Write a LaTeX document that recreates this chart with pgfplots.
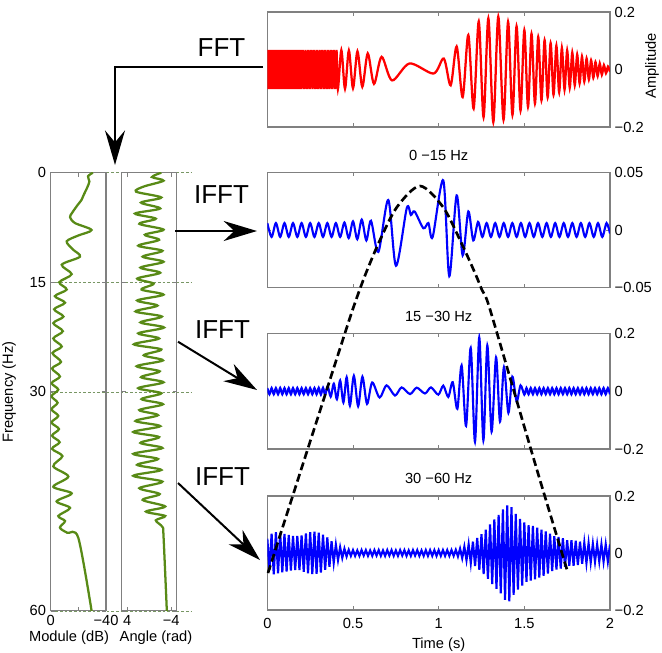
\documentclass[border=0pt]{standalone}
\usepackage{fontspec}
\setmainfont{Liberation Sans}
\usepackage{pgfplots}
\pgfplotsset{compat=1.18}
\usetikzlibrary{arrows.meta}

\definecolor{sigred}{RGB}{255,0,0}
\definecolor{sigblue}{RGB}{0,0,255}
\definecolor{siggreen}{RGB}{88,138,22}
\definecolor{boxgray}{RGB}{128,128,128}
\definecolor{gridgreen}{RGB}{120,150,100}

\pgfplotsset{
  panel/.style={scale only axis, anchor=north west,
    axis line style={draw=boxgray, line width=0.8pt},
    tick style={draw=boxgray, line width=0.6pt},
    tick align=inside, major tick length=3pt,
    xtick pos=both, ytick pos=both,
    scaled x ticks=false, scaled y ticks=false,
    every tick label/.append style={font=\fontsize{11}{13}\selectfont, text=black},
    label style={font=\fontsize{11}{13}\selectfont},
    clip=true},
  tpanel/.style={panel, width=257pt, xmin=0, xmax=2,
    xtick={0,0.5,1,1.5,2}, xticklabels={},
    yticklabel pos=right},
  ovl/.style={at={(0pt,0pt)}, anchor=north west, scale only axis,
    width=496.5pt, height=489.75pt, xmin=0, xmax=662, ymin=0, ymax=653,
    y dir=reverse, hide axis, clip=false},
}

\begin{document}
\begin{tikzpicture}
\useasboundingbox (0,0) rectangle (496.5pt,-489.75pt);

% background overlay: dashed frequency grid lines
\begin{axis}[ovl]
\addplot[gridgreen, line width=0.6pt, dash pattern=on 2pt off 1.5pt] coordinates {(50.7,172.7) (191,172.7)};
\addplot[gridgreen, line width=0.6pt, dash pattern=on 2pt off 1.5pt] coordinates {(50.7,282.3) (191,282.3)};
\addplot[gridgreen, line width=0.6pt, dash pattern=on 2pt off 1.5pt] coordinates {(50.7,392) (191,392)};
\addplot[gridgreen, line width=0.6pt, dash pattern=on 2pt off 1.5pt] coordinates {(50.7,611) (191,611)};
\end{axis}

% ---------- Module ----------
\begin{axis}[panel, at={(38pt,-129.5pt)}, width=41.5pt, height=328.7pt,
  xmin=-40, xmax=0, x dir=reverse, ymin=0, ymax=60, y dir=reverse,
  xtick={0,-20,-40}, xticklabels={0,,−40},
  ytick={0,15,30,60}, yticklabels={0,15,30,60}]
\addplot[siggreen, line width=1.7pt, smooth] coordinates {
(-30.5,0) (-27,0.5) (-28,1.2) (-26.5,2.0) (-24,3.0) (-22.4,3.7) (-18.8,4.6) (-15.5,5.5) (-14,6.1) (-17.6,6.9) (-29.6,7.85) (-20,8.6) (-11.6,9.4) (-16,10.5) (-21.2,11.5) (-8,12.6) (-15.2,13.9) (-6.2,15.0)
(-11.6,16.0) (-3.1,16.9) (-10.4,17.8) (-2.5,18.7) (-9.2,19.7) (-1.9,20.6) (-8.8,21.7) (-1.9,22.7) (-8,23.8) (-1.3,24.7) (-7.5,25.9) (-1,26.8) (-6.7,27.9) (-0.7,28.8) (-5.5,29.7)
(-0.6,30.6) (-5,31.5) (-0.6,32.4) (-5.5,33.3) (-0.6,34.2) (-6,35.1) (-1,36.0) (-6.5,36.9) (-1,37.8) (-8.5,38.8) (-1.9,40.2) (-12.8,41.6) (-1.9,43.0) (-15.2,43.9) (-4.3,45.0) (-14,45.9) (-5.5,47.0) (-10.4,47.7) (-6.7,48.6) (-12,49.3) (-20,50.0) (-29.6,60)
};
\end{axis}

% ---------- Angle ----------
\begin{axis}[panel, at={(91.3pt,-129.5pt)}, width=41.25pt, height=328.7pt,
  xmin=-5, xmax=5, x dir=reverse, ymin=0, ymax=60, y dir=reverse,
  xtick={4,-4}, xticklabels={4,−4},
  ytick={0,15,30,60}, yticklabels={}]
\addplot[siggreen, line width=1.7pt, smooth] coordinates {
(-2.2,0) (-0.5,0.6) (-2.6,1.1) (1.0,1.9) (2.4,2.6) (-2.2,3.4) (1.5,4.1) (-2.0,4.9) (2.6,5.6) (-1.2,6.3) (1.8,7.0) (-2.6,7.8) (0.8,8.5) (-1.8,9.2) (2.0,10.0) (-2.4,10.7) (1.2,11.5) (-2.6,12.2) (1.6,13.0) (-2.0,13.7) (2.2,14.5) (-0.8,15.2) (1.4,16.0) (-2.6,16.7) (2.2,17.5) (-1.5,18.2) (2.5,19.0) (-2.3,19.7) (1.6,20.5) (-2.7,21.2) (2.0,22.0) (-1.8,22.7) (2.8,23.5) (-2.2,24.2) (1.0,25.0) (-2.5,25.7) (2.3,26.5) (-1.9,27.2) (1.5,28.0) (-2.6,28.7) (2.0,29.5) (-2.2,30.2) (1.4,31.0) (-2.5,31.7) (1.8,32.5) (-1.6,33.2) (2.5,34.0) (-2.0,34.7) (2.9,35.5) (-1.8,36.2) (1.6,37.0) (-2.4,37.7) (2.9,38.5) (-1.6,39.2) (2.2,40.0) (-2.2,40.7) (2.9,41.5) (-2.4,42.3) (1.8,43.2) (-1.9,44.0) (1.2,44.8) (-2.9,45.7) (0.6,46.4) (-2.9,47.0) (-1.2,47.6) (-2.4,48.5) (-2.6,49.8) (-3.2,60)
};
\end{axis}

% ---------- Top: original signal ----------
\begin{axis}[tpanel, at={(200.5pt,-9pt)}, height=86.25pt,
  ymin=-0.2, ymax=0.2, ytick={-0.2,0,0.2}, yticklabels={−0.2,0,0.2}]
\addplot[sigred, line width=1.7pt, smooth] coordinates {
(0,0.068) (0.006,-0.068) (0.012,0.068) (0.018,-0.068) (0.024,0.068) (0.03,-0.068) (0.036,0.068) (0.042,-0.068) (0.048,0.068) (0.054,-0.068) (0.06,0.068) (0.066,-0.068) (0.072,0.068) (0.078,-0.068) (0.084,0.068) (0.09,-0.068) (0.096,0.068) (0.102,-0.068) (0.108,0.068) (0.114,-0.068) (0.12,0.068) (0.126,-0.068) (0.132,0.068) (0.138,-0.068) (0.144,0.068) (0.15,-0.068) (0.156,0.068) (0.162,-0.068) (0.168,0.068) (0.174,-0.068) (0.18,0.068) (0.186,-0.068) (0.192,0.068) (0.198,-0.068)
(0.2062,0.068) (0.2144,-0.068) (0.2227,0.068) (0.2309,-0.068) (0.2391,0.068) (0.2473,-0.068) (0.2555,0.068) (0.2638,-0.068) (0.272,0.068) (0.2802,-0.068) (0.2884,0.068) (0.2966,-0.068) (0.3049,0.068) (0.3131,-0.068) (0.3213,0.068) (0.3295,-0.068) (0.3377,0.068) (0.346,-0.068) (0.3542,0.068) (0.3624,-0.068) (0.3706,0.068) (0.3788,-0.068) (0.3871,0.068) (0.3953,-0.068) (0.4035,0.068) (0.4117,-0.068)
(0.432,0.067) (0.4533,-0.067) (0.4759,0.066) (0.5,-0.065) (0.526,0.063) (0.5544,-0.06) (0.5861,0.056) (0.6225,-0.05) (0.667,0.044) (0.728,-0.038) (0.83,0.021) (0.97,-0.014) (1.03,0.038) (1.07,-0.055) (1.105,0.08) (1.14,-0.096) (1.173,0.12) (1.204,-0.136) (1.234,0.167) (1.262,-0.166) (1.29,0.178) (1.319,-0.183) (1.348,0.184) (1.3785,-0.175) (1.4052,0.166) (1.4306,-0.158) (1.4547,0.150) (1.4778,-0.143) (1.5,0.137) (1.5214,-0.130) (1.542,0.124) (1.5619,-0.118) (1.5812,0.113) (1.6,-0.107) (1.6183,0.102) (1.6361,-0.097) (1.6534,0.092) (1.6704,-0.088) (1.687,0.083) (1.7032,-0.079) (1.7191,0.075) (1.7347,-0.070) (1.75,0.066) (1.765,-0.063) (1.7798,0.059) (1.7943,-0.055) (1.8085,0.052) (1.8226,-0.048) (1.8364,0.045) (1.85,-0.042) (1.8634,0.038) (1.8767,-0.035) (1.8897,0.032) (1.9026,-0.029) (1.9153,0.026) (1.9278,-0.023) (1.9402,0.021) (1.9524,-0.018) (1.9645,0.015) (1.9765,-0.013) (1.9883,0.010) (2.0,-0.008)
};
\end{axis}

% ---------- 0-15 Hz ----------
\begin{axis}[tpanel, at={(200.5pt,-129.25pt)}, height=86.5pt,
  ymin=-0.05, ymax=0.05, ytick={-0.05,0,0.05}, yticklabels={−0.05,0,0.05}]
\addplot[sigblue, line width=1.6pt, smooth] coordinates {
(0,0.006) (0.025,-0.006) (0.05,0.006) (0.075,-0.006) (0.1,0.006) (0.125,-0.006) (0.15,0.006) (0.175,-0.006) (0.2,0.006) (0.225,-0.006) (0.25,0.006) (0.275,-0.006) (0.3,0.006) (0.325,-0.006) (0.35,0.006) (0.375,-0.006) (0.4,0.006) (0.425,-0.006) (0.45,0.0065) (0.475,-0.007) (0.5,0.0075) (0.525,-0.008) (0.551,0.009) (0.578,-0.009) (0.605,0.008) (0.648,-0.019) (0.706,0.026) (0.751,-0.031) (0.814,0.019) (0.838,0.013) (0.86,0.016) (0.911,0.0015) (0.94,0.006) (0.965,-0.006) (1.027,0.043) (1.062,-0.040) (1.105,0.030) (1.14,-0.022) (1.173,0.016) (1.202,-0.009) (1.23,0.007) (1.255,-0.006) (1.28,0.006) (1.305,-0.006) (1.33,0.006) (1.355,-0.006) (1.38,0.006) (1.405,-0.006) (1.43,0.006) (1.455,-0.006) (1.48,0.006) (1.505,-0.006) (1.53,0.006) (1.555,-0.006) (1.58,0.006) (1.605,-0.006) (1.63,0.006) (1.655,-0.006) (1.68,0.006) (1.705,-0.006) (1.73,0.006) (1.755,-0.006) (1.78,0.006) (1.805,-0.006) (1.83,0.006) (1.855,-0.006) (1.88,0.006) (1.905,-0.006) (1.93,0.006) (1.955,-0.006) (1.98,0.006) (2.0,-0.003)
};
\end{axis}

% ---------- 15-30 Hz ----------
\begin{axis}[tpanel, at={(200.5pt,-250pt)}, height=86.75pt,
  ymin=-0.2, ymax=0.2, ytick={-0.2,0,0.2}, yticklabels={−0.2,0,0.2}]
\addplot[sigblue, line width=1.6pt, smooth] coordinates {
(0,0.011) (0.0125,-0.011) (0.025,0.011) (0.0375,-0.011) (0.05,0.011) (0.0625,-0.011) (0.075,0.011) (0.0875,-0.011) (0.1,0.011) (0.1125,-0.011) (0.125,0.011) (0.1375,-0.011) (0.15,0.011) (0.1625,-0.011) (0.175,0.011) (0.1875,-0.011) (0.2,0.011) (0.2125,-0.011) (0.225,0.011) (0.2375,-0.011) (0.25,0.011) (0.2625,-0.011) (0.275,0.011) (0.2875,-0.011) (0.3,0.012) (0.3125,-0.012) (0.325,0.012) (0.3375,-0.013) (0.352,0.017) (0.37,-0.019) (0.388,0.026) (0.406,-0.028) (0.425,0.037) (0.444,-0.039) (0.463,0.048) (0.482,-0.05) (0.505,0.053) (0.53,-0.052) (0.555,0.05) (0.582,-0.044) (0.612,0.03) (0.655,-0.022) (0.696,0.02) (0.745,-0.015) (0.784,0.013) (0.833,-0.01) (0.872,0.012) (0.92,-0.008) (0.955,0.013) (0.998,-0.012) (1.027,0.019) (1.056,-0.02) (1.082,0.031) (1.109,-0.061) (1.134,0.089) (1.16,-0.12) (1.187,0.15) (1.212,-0.175) (1.237,0.186) (1.261,-0.17) (1.284,0.158) (1.309,-0.14) (1.335,0.117) (1.358,-0.105) (1.381,0.083) (1.407,-0.075) (1.43,0.05) (1.455,-0.035) (1.478,0.02) (1.5,-0.012) (1.5125,0.011) (1.525,-0.011) (1.5375,0.011) (1.55,-0.011) (1.5625,0.011) (1.575,-0.011) (1.5875,0.011) (1.6,-0.011) (1.6125,0.011) (1.625,-0.011) (1.6375,0.011) (1.65,-0.011) (1.6625,0.011) (1.675,-0.011) (1.6875,0.011) (1.7,-0.011) (1.7125,0.011) (1.725,-0.011) (1.7375,0.011) (1.75,-0.011) (1.7625,0.011) (1.775,-0.011) (1.7875,0.011) (1.8,-0.011) (1.8125,0.011) (1.825,-0.011) (1.8375,0.011) (1.85,-0.011) (1.8625,0.011) (1.875,-0.011) (1.8875,0.011) (1.9,-0.011) (1.9125,0.011) (1.925,-0.011) (1.9375,0.011) (1.95,-0.011) (1.9625,0.011) (1.975,-0.011) (1.9875,0.011) (2.0,-0.011)
};
\end{axis}

% ---------- 30-60 Hz ----------
\begin{axis}[tpanel, at={(200.5pt,-372pt)}, height=85.5pt,
  ymin=-0.2, ymax=0.2, ytick={-0.2,0,0.2}, yticklabels={−0.2,0,0.2},
  xticklabels={0,0.5,1,1.5,2}, xticklabel style={yshift=-3pt},
  xlabel={Time (s)}]
\addplot[sigblue, line width=1.6pt] coordinates {
(0,0.05) (0.0125,-0.059) (0.025,0.068) (0.0375,-0.075) (0.05,0.073) (0.0625,-0.071) (0.075,0.070) (0.0875,-0.068) (0.1,0.067) (0.1125,-0.065) (0.125,0.063) (0.1375,-0.062) (0.15,0.060) (0.1625,-0.060) (0.175,0.060) (0.1875,-0.060) (0.2,0.062) (0.2125,-0.066) (0.225,0.069) (0.2375,-0.071) (0.25,0.073) (0.2625,-0.074) (0.275,0.075) (0.2875,-0.073) (0.3,0.071) (0.3125,-0.069) (0.325,0.064) (0.3375,-0.059) (0.35,0.055) (0.3625,-0.048) (0.375,0.041) (0.3875,-0.034) (0.4,0.029) (0.4125,-0.025) (0.425,0.020) (0.4375,-0.017) (0.45,0.015) (0.4625,-0.012) (0.475,0.011) (0.4875,-0.010) (0.5,0.010)
(0.5125,-0.010) (0.525,0.009) (0.5375,-0.010) (0.55,0.010) (0.5625,-0.009) (0.575,0.010) (0.5875,-0.010) (0.6,0.009) (0.6125,-0.010) (0.625,0.010) (0.6375,-0.009) (0.65,0.010) (0.6625,-0.010) (0.675,0.009) (0.6875,-0.010) (0.7,0.010) (0.7125,-0.009) (0.725,0.010) (0.7375,-0.010) (0.75,0.009) (0.7625,-0.010) (0.775,0.010) (0.7875,-0.009) (0.8,0.010) (0.8125,-0.010) (0.825,0.009) (0.8375,-0.010) (0.85,0.010) (0.8625,-0.009) (0.875,0.010) (0.8875,-0.010) (0.9,0.009) (0.9125,-0.010) (0.925,0.010) (0.9375,-0.010) (0.95,0.010) (0.9625,-0.010) (0.975,0.010) (0.9875,-0.010) (1.0,0.010) (1.0125,-0.010) (1.025,0.010) (1.0375,-0.010) (1.05,0.010) (1.0625,-0.010) (1.075,0.010) (1.0875,-0.010)
(1.1,0.011) (1.1125,-0.012) (1.125,0.015) (1.1375,-0.018) (1.15,0.022) (1.1625,-0.025) (1.175,0.030) (1.1875,-0.035) (1.2,0.040) (1.2125,-0.046) (1.225,0.053) (1.2375,-0.059) (1.25,0.066) (1.2625,-0.074) (1.275,0.082) (1.2875,-0.091) (1.3,0.100) (1.3125,-0.109) (1.325,0.118) (1.3375,-0.126) (1.35,0.134) (1.3625,-0.142) (1.375,0.153) (1.3875,-0.164) (1.4,0.167) (1.4125,-0.170) (1.425,0.161) (1.4375,-0.147) (1.45,0.137) (1.4625,-0.128) (1.475,0.120) (1.4875,-0.114) (1.5,0.107) (1.5125,-0.101) (1.525,0.098) (1.5375,-0.097) (1.55,0.095) (1.5625,-0.092) (1.575,0.089) (1.5875,-0.086) (1.6,0.082) (1.6125,-0.080) (1.625,0.076) (1.6375,-0.072) (1.65,0.068) (1.6625,-0.063) (1.675,0.059) (1.6875,-0.058) (1.7,0.056) (1.7125,-0.055) (1.725,0.052) (1.7375,-0.048) (1.75,0.045) (1.7625,-0.045) (1.775,0.045) (1.7875,-0.045) (1.8,0.043) (1.8125,-0.042) (1.825,0.040) (1.8375,-0.038) (1.85,0.036) (1.8625,-0.035) (1.875,0.034) (1.8875,-0.033) (1.9,0.032) (1.9125,-0.031) (1.925,0.030) (1.9375,-0.030) (1.95,0.030) (1.9625,-0.030) (1.975,0.030) (1.9875,-0.030) (2.0,0.030)
};
\end{axis}

% foreground overlay: envelope, arrows, texts
\begin{axis}[ovl]
\addplot[black, line width=2pt, dash pattern=on 6pt off 3pt, smooth] coordinates {
(268,573) (301,470) (345,333) (356,300) (366,273) (380,240) (397,207) (420,186) (443,207) (460,240) (475,273) (482,290) (487,300) (497,333) (537,470) (568,573)};
\draw[black, line width=1.5pt, -{Stealth[length=26pt,width=15pt,inset=9pt]}]
  (axis cs:263,66.7) -- (axis cs:115,66.7) -- (axis cs:115,165);
\draw[black, line width=1.5pt, -{Stealth[length=25pt,width=15pt,inset=8pt]}]
  (axis cs:175,231) -- (axis cs:257,231);
\draw[black, line width=1.5pt, -{Stealth[length=25pt,width=15pt,inset=8pt]}]
  (axis cs:178,341.7) -- (axis cs:257,390);
\draw[black, line width=1.5pt, -{Stealth[length=25pt,width=15pt,inset=8pt]}]
  (axis cs:178,483) -- (axis cs:260,560);
\node[font=\fontsize{19.5}{23}\selectfont] at (axis cs:221.5,47.5) {FFT};
\node[font=\fontsize{19.5}{23}\selectfont] at (axis cs:221.5,195) {IFFT};
\node[font=\fontsize{19.5}{23}\selectfont] at (axis cs:222.5,330) {IFFT};
\node[font=\fontsize{19.5}{23}\selectfont] at (axis cs:222.5,477) {IFFT};
\node[font=\fontsize{11}{13}\selectfont] at (axis cs:438.7,155) {0 −15 Hz};
\node[font=\fontsize{11}{13}\selectfont] at (axis cs:438.7,316.7) {15 −30 Hz};
\node[font=\fontsize{11}{13}\selectfont] at (axis cs:438.7,478) {30 −60 Hz};
\node[font=\fontsize{11}{13}\selectfont, rotate=90, inner sep=1pt] at (axis cs:652,66) {Amplitude};
\node[font=\fontsize{11}{13}\selectfont, rotate=90, inner sep=1pt] at (axis cs:9,392) {Frequency (Hz)};
\node[font=\fontsize{11}{13}\selectfont] at (axis cs:69,638) {Module (dB)};
\node[font=\fontsize{11}{13}\selectfont] at (axis cs:156,638) {Angle (rad)};
\end{axis}
\end{tikzpicture}
\end{document}
